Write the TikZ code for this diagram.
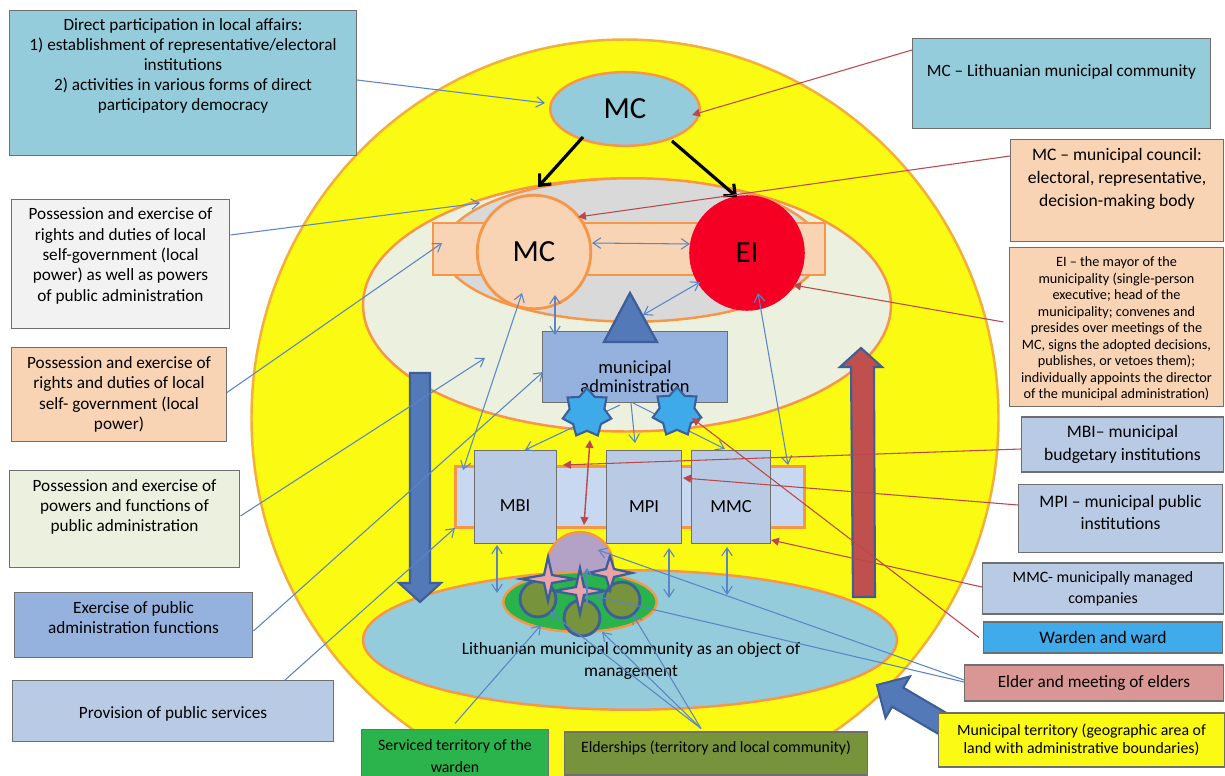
\documentclass[tikz,border=0pt]{standalone}
\usepackage{fontspec}
\setmainfont{Carlito}
\usetikzlibrary{shapes.geometric,arrows.meta}
\definecolor{cyel}{HTML}{FAFA12}
\definecolor{orng}{HTML}{F79646}
\definecolor{cyelb}{HTML}{F4AE3A}
\definecolor{caqua}{HTML}{95CCDB}
\definecolor{cpeach}{HTML}{F9D4B4}
\definecolor{clgreen}{HTML}{EBF1DE}
\definecolor{cgrey}{HTML}{D9D9D9}
\definecolor{cred}{HTML}{F50024}
\definecolor{cadm}{HTML}{95B2DF}
\definecolor{clblue}{HTML}{B9CBE4}
\definecolor{cbar}{HTML}{C8D8F0}
\definecolor{cstar}{HTML}{3FAAE9}
\definecolor{cdblue}{HTML}{5479B9}
\definecolor{cdbord}{HTML}{3D5F99}
\definecolor{cpurple}{HTML}{B3A1C6}
\definecolor{cgreen}{HTML}{28B34B}
\definecolor{colive}{HTML}{77933C}
\definecolor{credarr}{HTML}{C0504D}
\definecolor{celder}{HTML}{D99694}
\definecolor{cbox}{HTML}{F2F2F2}
\definecolor{cpink}{HTML}{EBA3A9}
\definecolor{lnb}{HTML}{5A84C6}
\definecolor{lnr}{HTML}{B9474B}
\definecolor{bord}{HTML}{6F6F6F}
\definecolor{cwarden}{HTML}{3FABEA}
\definecolor{cgbox}{HTML}{2BB34C}
\newcommand\tfs[2]{\fontsize{#1}{#2}\selectfont}
\newcommand\spark[4]{\draw[fill=cpink, draw=cdbord, line width=1.3pt, line join=miter]
  (#1+#3,#2) -- (#1+4,#2-4) -- (#1,#2-#4) -- (#1-4,#2-4) -- (#1-#3,#2) -- (#1-4,#2+4) -- (#1,#2+#4) -- (#1+4,#2+4) -- cycle;}
\tikzset{
  wh/.style 2 args={minimum width={#1*0.5669pt}, minimum height={#2*0.5669pt}},
  tbox/.style={rectangle, draw=bord, line width=0.7pt, inner sep=0pt, align=center},
  oval/.style={ellipse, draw=orng, line width=1.2pt, inner sep=0pt},
  txt/.style={align=center, inner sep=0pt, font=\tfs{9.8}{11.6}},
  cb/.style={draw=lnb, line width=0.6pt, -{Straight Barb[length=4.5pt,width=6pt]}},
  cbb/.style={draw=lnb, line width=0.6pt, {Straight Barb[length=4.5pt,width=6pt]}-{Straight Barb[length=4.5pt,width=6pt]}},
  cr/.style={draw=lnr, line width=0.6pt, -{Triangle[length=4.5pt,width=4.5pt]}},
  crr/.style={draw=lnr, line width=0.8pt, {Triangle[length=4.5pt,width=4.5pt]}-{Triangle[length=4.5pt,width=4.5pt]}},
  cbk/.style={draw=black, line width=1.8pt, -{Straight Barb[length=5pt,width=9pt]}},
  barrow/.style={draw=cdbord, line width=1.2pt, line join=miter},
  big/.style={font=\tfs{17.5}{20}},
  mid/.style={font=\tfs{10.5}{12}}
}
\begin{document}
\begin{tikzpicture}[x=0.02cm, y=-0.02cm]
\useasboundingbox (0,0) rectangle (1225,776);
\clip (0,0) rectangle (1225,776);
\fill[white] (0,0) rectangle (1225,776);

% big yellow territory
\node[oval, fill=cyel, draw=cyelb, line width=1.4pt, wh={750}{760}] (yc) at (625,418) {};
% top MC
\node[oval, fill=caqua, line width=1.4pt, wh={150}{74}, big] (mct) at (625,109) {MC};
% management ellipses
\node[oval, fill=clgreen, line width=1.4pt, wh={530}{254}] (ge) at (627,305) {};
\node[oval, fill=cgrey, line width=1.4pt, wh={380}{144}] (gr) at (632,250) {};
\node[rectangle, draw=orng, fill=cpeach, line width=1.4pt, wh={394}{52}] (bar1) at (629,249) {};
\node[circle, draw=orng, fill=cpeach, line width=1.6pt, inner sep=0pt, minimum size={114*0.5669pt}, big] (mcc) at (534,252) {MC};
\node[circle, fill=cred, inner sep=0pt, minimum size={116*0.5669pt}, big] (ei) at (747,253) {EI};

% administration
\node[tbox, fill=cadm, wh={185}{71}] (adm) at (635,367) {};
\node[txt, mid, font=\tfs{10.5}{10.8}] (admt) at (635,377) {municipal\\administration};
\coordinate (tri) at (630,325);
\draw[fill=cdblue, draw=cdbord, line width=1.3pt, line join=miter] (630,293) -- (604,342) -- (657,342) -- cycle;

% lower bar and institutions
\node[rectangle, draw=orng, fill=cbar, line width=1.8pt, wh={351}{61}] (bar2) at (630,497) {};
\node[tbox, fill=clblue, wh={83}{94}] (mbi) at (515.5,497) {};
\node[tbox, fill=clblue, wh={76}{94}] (mpi) at (644,497) {};
\node[tbox, fill=clblue, wh={80}{94}] (mmc) at (731,497) {};
\node[mid] (mbit) at (515,506) {MBI};
\node[mid] (mpit) at (644,507) {MPI};
\node[mid] (mmct) at (731,507) {MMC};

% connectors from administration to institutions (under the stars)
\draw[cb] ([shift={(-15,38)}]adm.center) -- ([shift={(9.5,-47)}]mbi.center);
\draw[cb] ([shift={(-4,36)}]adm.center) -- ([shift={(-9,-54)}]mpi.center);
\draw[cb] ([shift={(-2,36)}]adm.center) -- ([shift={(-6,-48)}]mmc.center);

% stars (wardens)
\node[star, star points=7, star point ratio=1.4, draw=cdbord, fill=cstar, line width=1.2pt, inner sep=0pt, minimum size={50*0.5669pt}] (st1) at (587,413) {};
\node[star, star points=7, star point ratio=1.4, draw=cdbord, fill=cstar, line width=1.2pt, inner sep=0pt, minimum size={50*0.5669pt}] (st2) at (677,412) {};

% community ellipse
\node[oval, fill=caqua, line width=1.4pt, wh={536}{140}] (be) at (630,640) {};
\node[txt, font=\tfs{9.9}{13}] (bet) at (631,661) {Lithuanian municipal community as an object of\\management};
\node[circle, draw=orng, fill=cpurple, line width=1.4pt, inner sep=0pt, minimum size={66*0.5669pt}] (pur) at (580,565) {};
\node[oval, fill=cgreen, line width=1.4pt, wh={154}{60}] (gre) at (580,602) {};
\node[circle, draw=cdbord, fill=colive, line width=1.6pt, inner sep=0pt, minimum size={36*0.5669pt}] (oc1) at (538,599) {};
\node[circle, draw=cdbord, fill=colive, line width=1.6pt, inner sep=0pt, minimum size={36*0.5669pt}] (oc2) at (582,618) {};
\node[circle, draw=cdbord, fill=colive, line width=1.6pt, inner sep=0pt, minimum size={36*0.5669pt}] (oc3) at (622,600) {};
\spark{548}{579}{27}{22}
\spark{610}{573}{22}{17}
\spark{580}{591}{26}{23}

% block arrows
\draw[barrow, fill=cdblue] (410,373) -- (430,373) -- (430,583) -- (441,583) -- (420,602) -- (399,583) -- (410,583) -- cycle;
\draw[barrow, fill=credarr] (853,597) -- (875,597) -- (874,367) -- (882,367) -- (861,348) -- (840,367) -- (851,367) -- cycle;
\draw[barrow, fill=cdblue] (950.6,715.5) -- (903.3,687.7) -- (909.9,676.5) -- (877,685) -- (885.5,717.9) -- (892.1,706.7) -- (939.4,734.5) -- cycle;

% left boxes
\node[tbox, fill=caqua, wh={348}{146}] (b1) at (183,83) {};
\node[txt, font=\tfs{9.8}{11.5}] (b1t) at (183,66) {Direct participation in local affairs:\\1) establishment of representative/electoral\\institutions\\2) activities in various forms of direct\\participatory democracy};
\node[tbox, fill=cbox, wh={219}{130}] (b2) at (120.5,264) {};
\node[txt] (b2t) at (120.5,256) {Possession and exercise of\\rights and duties of local\\self-government (local\\power) as well as powers\\of public administration};
\node[tbox, fill=cpeach, wh={216}{95}, txt] (b3) at (119,394.5) {Possession and exercise of\\rights and duties of local\\self- government (local\\power)};
\node[tbox, fill=clgreen, wh={231}{98}] (b4) at (124.5,519) {};
\node[txt] (b4t) at (124.5,507) {Possession and exercise of\\powers and functions of\\public administration};
\node[tbox, fill=cadm, wh={239}{66}] (b5) at (133.5,625) {};
\node[txt, font=\tfs{9.8}{11.3}] (b5t) at (133.5,618) {Exercise of public\\administration functions};
\node[tbox, fill=clblue, wh={322}{62}] (b6) at (173,711) {};
\node[txt] (b6t) at (173,714) {Provision of public services};

% right boxes
\node[tbox, fill=caqua, wh={299}{91}] (r1) at (1061.5,83.5) {};
\node[txt] (r1t) at (1061.5,72) {MC -- Lithuanian municipal community};
\node[tbox, fill=cpeach, wh={214}{103}] (r2) at (1117,190.5) {};
\node[txt, font=\tfs{10}{13}] (r2t) at (1117,179) {MC -- municipal council:\\electoral, representative,\\decision-making body};
\node[tbox, fill=cpeach, wh={215}{160}] (r3) at (1116.5,327) {};
\node[txt, font=\tfs{8.1}{9.4}] (r3t) at (1116.5,329) {EI -- the mayor of the\\municipality (single-person\\executive; head of the\\municipality; convenes and\\presides over meetings of the\\MC, signs the adopted decisions,\\publishes, or vetoes them);\\individually appoints the director\\of the municipal administration)};
\node[tbox, fill=clblue, wh={203}{55}, txt, font=\tfs{10}{13}] (r4) at (1122.5,444.5) {MBI-- municipal\\budgetary institutions};
\node[tbox, fill=clblue, wh={205}{69}] (r5) at (1120.5,518.5) {};
\node[txt, font=\tfs{10}{12.5}] (r5t) at (1120.5,512) {MPI -- municipal public\\institutions};
\node[tbox, fill=clblue, wh={242}{51}, txt, font=\tfs{9}{11.9}] (r6) at (1103,588.5) {MMC- municipally managed\\companies};
\node[tbox, fill=cwarden, wh={240}{31}, txt, font=\tfs{10}{12}] (r7) at (1103,637.5) {Warden and ward};
\node[tbox, fill=celder, wh={260}{36}, txt, font=\tfs{9.8}{12}] (r8) at (1094,683) {Elder and meeting of elders};
\node[tbox, fill=cyel, wh={287}{54}, txt, font=\tfs{9}{10.2}] (r9) at (1081.5,740) {Municipal territory (geographic area of\\land with administrative boundaries)};

% bottom boxes
\node[tbox, fill=cgbox, wh={188}{61}] (sv) at (455,759.5) {};
\node[txt, font=\tfs{9}{12.5}] (svt) at (455,756) {Serviced territory of the\\warden};
\node[tbox, fill=colive, wh={304}{43}] (el) at (716,753.5) {};
\node[txt, font=\tfs{9}{11}] (elt) at (716,748) {Elderships (territory and local community)};

% black arrows
\draw[cbk] ([shift={(-42,28)}]mct.center) -- ([shift={(4,-65)}]mcc.center);
\draw[cbk] ([shift={(47,32)}]mct.center) -- ([shift={(-10,-56)}]ei.center);

% blue connectors
\draw[cbb] ([shift={(58,-9)}]mcc.center) -- ([shift={(-57,-9)}]ei.center);
\draw[cb] ([shift={(174,-3)}]b1.center) -- ([shift={(-80,-6)}]mct.center);
\draw[cb] ([shift={(110,-29)}]b2.center) -- ([shift={(-147,-102)}]ge.center);
\draw[cb] ([shift={(108,-2)}]b3.center) -- ([shift={(-187,-6)}]bar1.center);
\draw[cb] ([shift={(116,-3)}]b4.center) -- ([shift={(-142,53)}]ge.center);
\draw[cb] ([shift={(120,6)}]b5.center) -- ([shift={(-92,5)}]adm.center);
\draw[cb] ([shift={(112,-31)}]b6.center) -- ([shift={(-175,31)}]bar2.center);
\draw[cbb] ([shift={(-12,41)}]mcc.center) -- ([shift={(-167,-27)}]bar2.center);
\draw[cbb] ([shift={(21,43)}]mcc.center) -- ([shift={(-80,-32)}]adm.center);
\draw[cbb] ([shift={(13,-10)}]tri) -- ([shift={(-47,29)}]ei.center);
\draw[cbb] ([shift={(11,40)}]ei.center) -- ([shift={(158,-32)}]bar2.center);
\draw[cbb] ([shift={(-18.5,48)}]mbi.center) -- ([shift={(-133,-47)}]be.center);
\draw[cbb] ([shift={(25,51)}]mpi.center) -- ([shift={(39,-42)}]be.center);
\draw[cbb] ([shift={(-4,50)}]mmc.center) -- ([shift={(97,-45)}]be.center);
\draw[cb] ([shift={(0,-36)}]sv.center) -- ([shift={(-39,23)}]gre.center);
\draw[cb] ([shift={(-15,-25)}]el.center) -- ([shift={(12,13)}]oc1.center);
\draw[cb] ([shift={(-15,-25)}]el.center) -- ([shift={(20,14)}]oc2.center);
\draw[cb] ([shift={(-15,-25)}]el.center) -- ([shift={(11,15)}]oc3.center);
\draw[cb] ([shift={(-130,-3)}]r8.center) -- ([shift={(18,-15)}]pur.center);
\draw[cb] ([shift={(-130,-1)}]r8.center) -- ([shift={(15,-6)}]gre.center);
\draw[cb] ([shift={(5,-15)}]oc2.center) -- ([shift={(7,3)}]pur.center);

% red connectors
\draw[cr] ([shift={(-149.5,-33.5)}]r1.center) -- ([shift={(67,6)}]mct.center);
\draw[cr] ([shift={(-107,-34.5)}]r2.center) -- ([shift={(44,-35)}]mcc.center);
\draw[cr] ([shift={(-113,-5)}]r3.center) -- ([shift={(46,32)}]ei.center);
\draw[cr] ([shift={(-101.5,4.5)}]r4.center) -- ([shift={(47.5,-32)}]mbi.center);
\draw[cr] ([shift={(-102.5,-13.5)}]r5.center) -- ([shift={(39,-19)}]mpi.center);
\draw[cr] ([shift={(-121,-1.5)}]r6.center) -- ([shift={(40,43)}]mmc.center);
\draw[cr] ([shift={(-124,0)}]r7.center) -- ([shift={(15,6)}]st2.center);
\draw[crr] ([shift={(3,27)}]st1.center) -- ([shift={(4,-40)}]pur.center);
\end{tikzpicture}
\end{document}
